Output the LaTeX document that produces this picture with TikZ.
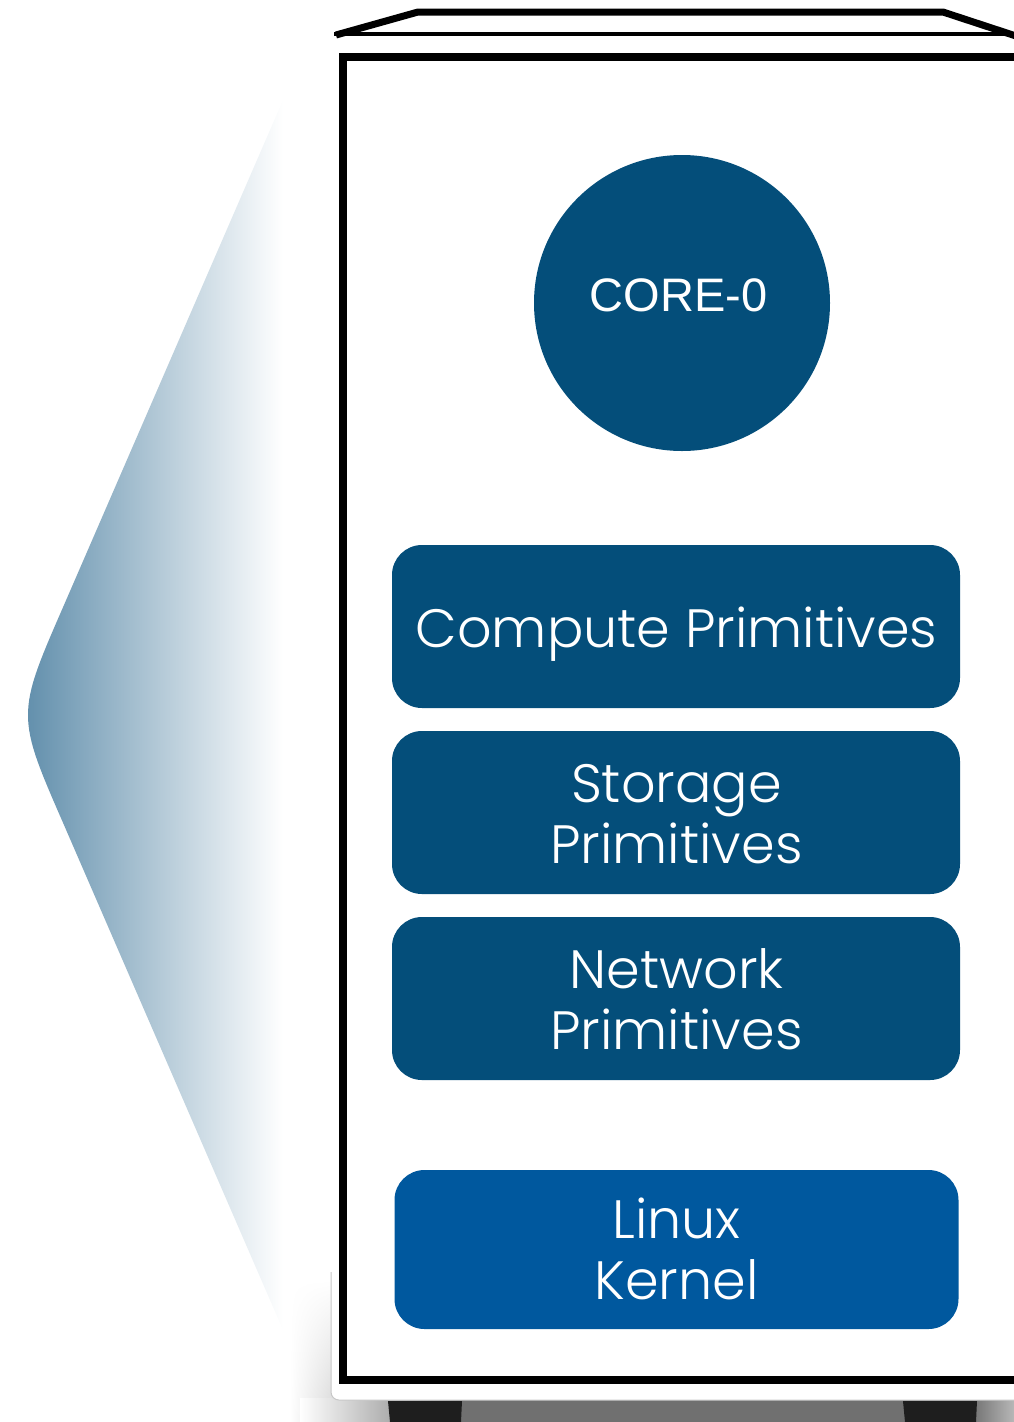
\documentclass[tikz,border=0pt]{standalone}
\usepackage{fontspec}
\usetikzlibrary{fadings}
\newfontfamily\popfont{Poppins Light}
\newfontfamily\arialfont{Liberation Sans}
\definecolor{navy}{HTML}{044E7A}
\definecolor{kernelblue}{HTML}{00589E}
\definecolor{fadeblue}{HTML}{5C8BA9}
\definecolor{footgray}{HTML}{1E1E1E}
% floor shadow under the chassis: light at the left, dark in the middle, lighter at the right
\pgfdeclarehorizontalshading{floorshadow}{100bp}{color(0bp)=(white); color(25bp)=(white); color(36bp)=(black!56); color(72bp)=(black!56); color(75bp)=(black!28); color(100bp)=(black!28)}
\tikzset{
  layer/.style={rounded corners=30pt, fill=navy, inner sep=0pt,
    minimum width=568pt, minimum height=163pt},
  lbl/.style={text=white, font=\popfont\fontsize{54}{62}\selectfont, inner sep=0pt, anchor=base},
  foot/.style={fill=footgray},
}
\begin{document}
\begin{tikzpicture}[x=1pt, y=-1pt]
\useasboundingbox (0,0) rectangle (1014,1422);

% fading wedge on the left
\shade[left color=fadeblue, right color=white]
  (283,100) -- (64,605) .. controls (16,715) .. (64,825) -- (283,1330) -- cycle;

% soft shadows around the base
\shade[left color=white, right color=black!16, path fading=north] (290,1280) rectangle (333,1422);
\shade[shading=floorshadow] (300,1398) rectangle (1014,1422);

% white chassis plate
\fill[white, rounded corners=8pt] (331,38) rectangle (1040,1400);
\draw[black!22, line width=1pt, rounded corners=8pt] (331,1272) -- (331,1400) -- (1040,1400);

% feet
\fill[foot] (388,1401) -- (462,1401) -- (461,1422) -- (390,1422) -- cycle;
\fill[foot] (903,1401) -- (977,1401) -- (976,1422) -- (905,1422) -- cycle;

% lid
\draw[line width=3.5pt] (334,34) -- (1014,34);
\draw[line width=7pt, line join=miter] (336,35) -- (418,12) -- (943,12) -- (1022,38);

% chassis frame
\draw[line width=8pt] (343,57) rectangle (1040,1380);

% core
\node[circle, fill=navy, minimum size=296pt, inner sep=0pt] (core) at (682,303) {};
\node[text=white, font=\arialfont\fontsize{47}{52}\selectfont, inner sep=0pt, anchor=base]
  (coret) at (678.5,311) {CORE-0};

% primitive layers
\node[layer] (compute) at (676,626.5) {};
\node[lbl] (computet) at (676.5,647) {Compute Primitives};

\node[layer] (storage) at (676,812.5) {};
\node[lbl] (storaget1) at (676.5,802) {Storage};
\node[lbl] (storaget2) at (676.5,863) {Primitives};

\node[layer] (network) at (676,998.5) {};
\node[lbl] (networkt1) at (676.5,988) {Network};
\node[lbl] (networkt2) at (676.5,1049) {Primitives};

% kernel
\node[layer, fill=kernelblue, minimum width=564pt, minimum height=159pt] (kernel) at (676.5,1249.5) {};
\node[lbl] (kernelt1) at (676.5,1238) {Linux};
\node[lbl] (kernelt2) at (676.5,1299) {Kernel};
\end{tikzpicture}
\end{document}
